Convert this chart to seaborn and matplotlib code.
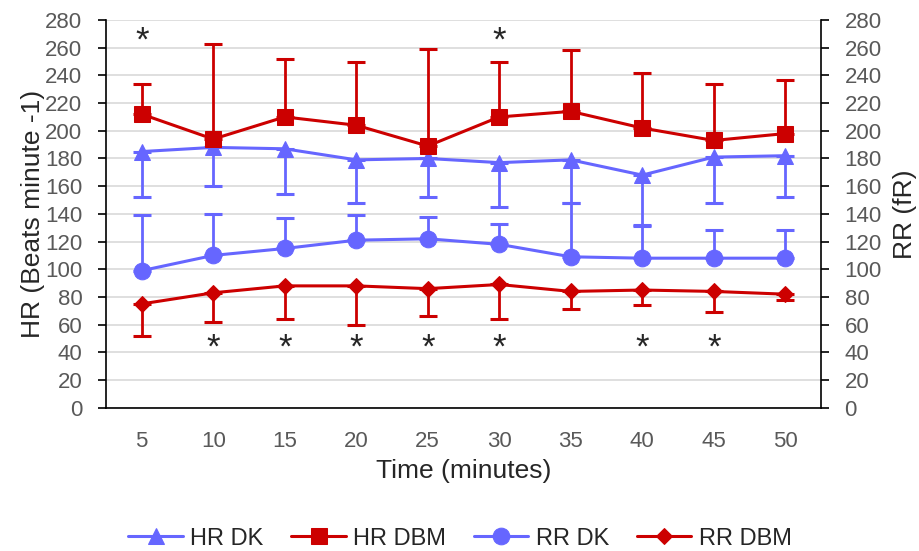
import numpy as np
import pandas as pd
import seaborn as sns
import matplotlib.pyplot as plt

# dados
tempos = [5, 10, 15, 20, 25, 30, 35, 40, 45, 50]

hr_dk = [185, 188, 187, 179, 180, 177, 179, 168, 181, 182]
hr_dk_baixo = [152, 160, 154, 148, 152, 145, 148, 132, 148, 152]   # só barra para baixo

hr_dbm = [212, 194, 210, 204, 189, 210, 214, 202, 193, 198]
hr_dbm_cima = [234, 263, 252, 250, 259, 250, 258, 242, 234, 237]   # só barra para cima

rr_dk = [99, 110, 115, 121, 122, 118, 109, 108, 108, 108]
rr_dk_cima = [139, 140, 137, 139, 138, 133, 148, 131, 128, 128]

rr_dbm = [75, 83, 88, 88, 86, 89, 84, 85, 84, 82]
rr_dbm_baixo = [52, 62, 64, 60, 66, 64, 71, 74, 69, 78]

asterisco_topo = [5, 30]
asterisco_baixo = [10, 15, 20, 25, 30, 40, 45]

AZUL = '#6666FF'
VERMELHO = '#CC0000'
CINZA = '#595959'

sns.set_theme(style="white")
plt.rcParams['font.family'] = ['Liberation Sans', 'DejaVu Sans']

pos = np.arange(len(tempos))
df = pd.DataFrame({
    'pos': np.tile(pos, 4),
    'valor': hr_dk + hr_dbm + rr_dk + rr_dbm,
    'serie': ['HR DK'] * 10 + ['HR DBM'] * 10 + ['RR DK'] * 10 + ['RR DBM'] * 10,
})

fig, ax = plt.subplots(figsize=(9.2, 5.51), dpi=100)
fig.subplots_adjust(left=0.1152, right=0.8924, top=0.9637, bottom=0.26)
ax2 = ax.twinx()

estilos = {
    'HR DK': (AZUL, '^', 12, ax),
    'HR DBM': (VERMELHO, 's', 11, ax),
    'RR DK': (AZUL, 'o', 12, ax2),
    'RR DBM': (VERMELHO, 'D', 8.5, ax2),
}
erros = {
    'HR DK': (np.array(hr_dk) - np.array(hr_dk_baixo), 'baixo'),
    'HR DBM': (np.array(hr_dbm_cima) - np.array(hr_dbm), 'cima'),
    'RR DK': (np.array(rr_dk_cima) - np.array(rr_dk), 'cima'),
    'RR DBM': (np.array(rr_dbm) - np.array(rr_dbm_baixo), 'baixo'),
}

for serie, (cor, marcador, tam, eixo) in estilos.items():
    sub = df[df['serie'] == serie]
    e, lado = erros[serie]
    yerr = [e, np.zeros_like(e)] if lado == 'baixo' else [np.zeros_like(e), e]
    eixo.errorbar(sub['pos'], sub['valor'], yerr=yerr, fmt='none', ecolor=cor,
                  elinewidth=2, capsize=6.5, capthick=2.2, zorder=2)
    sns.lineplot(data=sub, x='pos', y='valor', ax=eixo, color=cor, marker=marcador,
                 markersize=tam, markeredgecolor=cor, linewidth=2.2, label=serie,
                 legend=False, zorder=3)

# asteriscos
for t in asterisco_topo:
    ax.text(tempos.index(t), 265, '*', ha='center', va='center', fontsize=25)
for t in asterisco_baixo:
    ax.text(tempos.index(t), 43, '*', ha='center', va='center', fontsize=25)

for eixo in (ax, ax2):
    eixo.set_ylim(0, 280)
    eixo.set_yticks(range(0, 281, 20))
    eixo.set_xlim(-0.5, len(tempos) - 0.5)
    eixo.set_ylabel('')
    eixo.set_xlabel('')
    eixo.tick_params(axis='y', labelsize=16, labelcolor=CINZA, length=6, width=1.2,
                     color='black', direction='out', pad=11)
    for lado in eixo.spines.values():
        lado.set_visible(False)

ax.grid(axis='y', color='#D9D9D9', linewidth=1.2)
ax.set_axisbelow(True)
ax2.grid(False)
ax.spines['left'].set_visible(True)
ax.spines['bottom'].set_visible(True)
ax2.spines['right'].set_visible(True)
for lado in ('left', 'bottom'):
    ax.spines[lado].set_color('black')
    ax.spines[lado].set_linewidth(1.2)
ax2.spines['right'].set_color('black')
ax2.spines['right'].set_linewidth(1.2)

ax.set_xticks(pos)
ax.set_xticklabels([str(t) for t in tempos])
ax.set_xticks(np.arange(-0.5, len(tempos)), minor=True)
ax.tick_params(axis='x', which='major', length=0, labelsize=16, labelcolor=CINZA, pad=17)
ax.tick_params(axis='x', which='minor', length=6, width=1.2, color='black', direction='out')
ax2.tick_params(axis='x', bottom=False, labelbottom=False)

ax.set_ylabel('HR (Beats minute -1)', fontsize=19, labelpad=0)
ax2.set_ylabel('RR (fR)', fontsize=19, labelpad=8)
ax.set_xlabel('Time (minutes)', fontsize=19, labelpad=5)

linhas = ax.get_lines() + ax2.get_lines()
handles = [l for l in linhas if l.get_label() in estilos]
ordem = ['HR DK', 'HR DBM', 'RR DK', 'RR DBM']
handles = sorted(handles, key=lambda l: ordem.index(l.get_label()))
fig.legend(handles, ordem, loc='lower center', ncol=4, frameon=False, fontsize=17,
           bbox_to_anchor=(0.5, -0.036), handlelength=2.3, columnspacing=1.2,
           handletextpad=0.3)

plt.savefig('out.png', dpi=100)
